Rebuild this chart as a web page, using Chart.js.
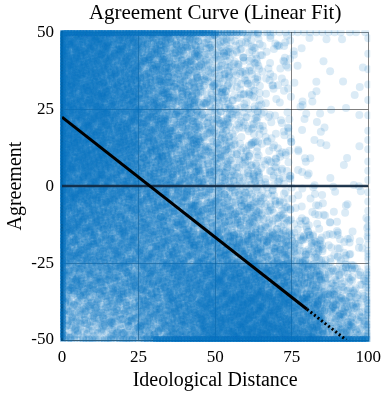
<!DOCTYPE html>
<html><head><meta charset="utf-8">
<script src="https://cdn.jsdelivr.net/npm/chart.js@4/dist/chart.umd.min.js"></script>
<style>html,body{margin:0;padding:0;background:#fff;}canvas{display:block;}</style>
</head><body>
<canvas id="c" width="388" height="393"></canvas>
<script>
// Estimated 2D histogram of the scatter (points per 10x10 cell)
const xBinStarts = [0, 10, 20, 30, 40, 50, 60, 70, 80, 90];
const yBinStarts = [40, 30, 20, 10, 0, -10, -20, -30, -40, -50];
const cellCounts = [
  [305, 281, 200, 150,  95,  50,  28,   6,   3,  2],
  [305, 281, 200, 150,  95,  50,  28,   7,   4,  2],
  [305, 281, 210, 155,  95,  52,  30,   7,   3,  2],
  [305, 281, 220, 160, 105,  60,  36,   9,   3,  2],
  [305, 281, 220, 170, 115,  70,  47,  14,   5,  3],
  [251, 220, 190, 165, 125,  92,  57,  21,   7,  4],
  [213, 190, 185, 170, 155, 128,  92,  47,  17,  7],
  [183, 183, 183, 185, 200, 213, 200, 139,  68, 21],
  [139, 139, 159, 200, 251, 270, 270, 213, 121, 47],
  [ 79,  92, 121, 168, 227, 305, 305, 281, 168, 79]
];
// points sitting on the limits (clipped values)
const topEdgeCounts    = [60, 60, 60, 60, 55, 25, 8, 5, 5, 4];       // y = 50, per x bin
const bottomEdgeCounts = [10, 10, 14, 60, 60, 60, 60, 60, 60, 60];   // y = -50, per x bin
const leftEdgeCounts   = [40, 40, 40, 40, 40, 40, 40, 40, 40, 40];   // x = 0, per y bin
const rightEdgeCounts  = [2, 2, 2, 3, 3, 3, 5, 8, 10, 12];           // x = 100, per y bin

// linear fit
const fitSolidX = [0, 80],    fitSolidY = [22.4, -40];
const fitDotX   = [80, 92.8], fitDotY   = [-40, -50];
// zero reference line
const zeroLineX = [0, 100], zeroLineY = [0, 0];

const xTicks = [0, 25, 50, 75, 100];
const yTicks = [-50, -25, 0, 25, 50];

// spread each cell's points over the cell (leaped Halton sequence positions)
const halton = (i, b) => { let f = 1, r = 0; while (i > 0) { f /= b; r += f * (i % b); i = Math.floor(i / b); } return r; };
const frac = v => v - Math.floor(v);
const reflect = (v, lo, hi) => { if (v < lo) v = 2 * lo - v; if (v > hi) v = 2 * hi - v; return v; };
const pts = [];
yBinStarts.forEach((y0, r) => xBinStarts.forEach((x0, c) => {
  const n = cellCounts[r][c];
  const s = r * 10 + c;
  const start = 1 + s * 409;
  const ou = frac(s * 0.6180339887), ov = frac(s * 0.7548776662);
  for (let k = 0; k < n; k++) {
    const i = start + k * 31;
    const u = frac(halton(i, 2) + ou), v = frac(halton(i, 3) + ov);
    const x = x0 + 5 + (u - 0.5) * 20, y = y0 + 5 + (v - 0.5) * 20;
    pts.push({x: reflect(x, 0, 100), y: reflect(y, -50, 50)});
  }
}));
topEdgeCounts.forEach((n, c) => { for (let k = 0; k < n; k++) pts.push({x: Math.round(xBinStarts[c] + (k + 0.5) * 10 / n), y: 50}); });
bottomEdgeCounts.forEach((n, c) => { for (let k = 0; k < n; k++) pts.push({x: Math.round(xBinStarts[c] + (k + 0.5) * 10 / n), y: -50}); });
leftEdgeCounts.forEach((n, r) => { for (let k = 0; k < n; k++) pts.push({x: 0, y: Math.round(yBinStarts[r] + (k + 0.5) * 10 / n)}); });
rightEdgeCounts.forEach((n, r) => { for (let k = 0; k < n; k++) pts.push({x: 100, y: Math.round(yBinStarts[r] + (k + 0.5) * 10 / n)}); });

const toXY = (xs, ys) => xs.map((x, i) => ({x, y: ys[i]}));
const FONT = "'Liberation Serif', 'DejaVu Serif', serif";

new Chart(document.getElementById('c'), {
  data: {
    datasets: [
      { type: 'scatter', data: pts, order: 3, clip: 2,
        backgroundColor: 'rgba(0,114,189,0.14)', borderWidth: 0, pointRadius: 4, pointHoverRadius: 4 },
      { type: 'line', data: toXY(zeroLineX, zeroLineY), order: 2,
        borderColor: 'rgba(15,40,65,0.9)', borderWidth: 2.5, pointRadius: 0, fill: false },
      { type: 'line', data: toXY(fitSolidX, fitSolidY), order: 1,
        borderColor: '#000', borderWidth: 3, pointRadius: 0, fill: false },
      { type: 'line', data: toXY(fitDotX, fitDotY), order: 0,
        borderColor: '#000', borderWidth: 3, borderDash: [2, 2.5], pointRadius: 0, fill: false }
    ]
  },
  options: {
    responsive: false, animation: false, events: [],
    layout: { padding: { left: 0, right: 18, top: 0, bottom: 0 } },
    plugins: {
      legend: { display: false }, tooltip: { enabled: false },
      title: { display: true, fullSize: false, text: 'Agreement Curve (Linear Fit)', color: '#000',
        font: { family: FONT, size: 21, weight: 'normal' }, padding: { top: 1, bottom: 6 } }
    },
    scales: {
      x: { type: 'linear', min: 0, max: 100, z: 1,
        afterBuildTicks: s => { s.ticks = xTicks.map(v => ({value: v})); },
        afterFit: s => { s.height = 53; },
        grid: { color: 'rgba(0,0,0,0.5)', lineWidth: 1, drawTicks: false },
        border: { display: true, color: '#555', width: 1 },
        ticks: { padding: 7, color: '#000', maxRotation: 0, font: { family: FONT, size: 17 } },
        title: { display: true, text: 'Ideological Distance', color: '#000',
          font: { family: FONT, size: 20 }, padding: { top: 0, bottom: 0 } }
      },
      y: { type: 'linear', min: -50, max: 50, z: 1,
        afterBuildTicks: s => { s.ticks = yTicks.map(v => ({value: v})); },
        afterFit: s => { s.width = 62; },
        grid: { color: 'rgba(0,0,0,0.5)', lineWidth: 1, drawTicks: false },
        border: { display: true, color: '#000', width: 2.5 },
        ticks: { padding: 8, color: '#000', font: { family: FONT, size: 17 } },
        title: { display: true, text: 'Agreement', color: '#000',
          font: { family: FONT, size: 20 }, padding: { top: 4, bottom: 0 } }
      }
    }
  }
});
</script>
</body></html>
